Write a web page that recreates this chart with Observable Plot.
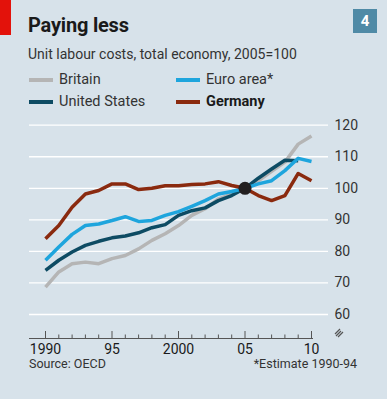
<!DOCTYPE html>
<html>
<head>
<meta charset="utf-8">
<script src="https://cdn.jsdelivr.net/npm/d3@7"></script>
<script src="https://cdn.jsdelivr.net/npm/@observablehq/plot@0.6"></script>
<style>
  html, body { margin: 0; padding: 0; }
  body { width: 387px; height: 399px; background: #d7e2ea; font-family: Roboto, "Open Sans", sans-serif; color: #1a1a1a; position: relative; overflow: hidden; }
  .abs { position: absolute; white-space: nowrap; }
  #redbar { left: 0; top: 0; width: 11px; height: 35px; background: #e3120b; }
  #num { left: 353px; top: 9px; width: 24px; height: 24px; background: #4f8aa6; color: #fff; font-weight: bold; font-size: 15px; line-height: 24px; text-align: center; }
  #title { left: 28px; top: 13px; font-size: 20px; font-weight: bold; letter-spacing: -0.2px; }
  #subtitle { left: 28px; top: 46px; font-size: 14px; color: #333; }
  .leg { font-size: 14.5px; color: #333; }
  .sw { width: 24px; height: 3.5px; }
  #chart { left: 0; top: 110px; }
  #source { left: 29px; top: 358px; font-size: 12.5px; line-height: 12px; color: #333; }
  #note { right: 30px; top: 358px; font-size: 12.5px; line-height: 12px; color: #333; }
</style>
</head>
<body>
<div id="redbar" class="abs"></div>
<div id="num" class="abs">4</div>
<div id="title" class="abs">Paying less</div>
<div id="subtitle" class="abs">Unit labour costs, total economy, 2005=100</div>
<div id="legend"></div>
<div id="chart" class="abs"></div>
<svg class="abs" style="left:333px;top:326px" width="14" height="14"><path d="M2,8 L7,3 M5,11 L10,6 M3,10 L8,5" stroke="#555" stroke-width="1.2" fill="none"/></svg>
<div id="source" class="abs">Source: OECD</div>
<div id="note" class="abs">*Estimate 1990-94</div>
<script>
const years = d3.range(1990, 2011);
const britain = [68.7,73.5,76.1,76.6,76.1,77.7,78.7,80.8,83.5,85.6,88.2,91.4,93.5,96.6,98.2,100,102.4,105.4,108.3,114.0,116.6];
const euroArea = [77.2,81.4,85.4,88.2,88.7,89.8,91.0,89.5,89.8,91.4,92.6,94.3,96.1,98.2,99.0,100,101.4,102.4,105.6,109.5,108.5];
const unitedStates = [74.0,77.2,79.8,81.9,83.2,84.3,84.9,85.9,87.5,88.5,91.4,92.9,93.8,96.1,97.7,100,103.2,106.1,108.9,108.7,null];
const germany = [84.0,88.2,94.0,98.2,99.3,101.4,101.4,99.6,100.0,100.8,100.8,101.2,101.4,102.1,100.9,100,97.7,96.1,97.7,104.7,102.4];
const seriesNames = ["Britain","Euro area*","United States","Germany"];
const seriesColors = ["#b5b5b5","#1ea5dd","#0d4b63","#8a2a0f"];
const seriesValues = [britain, euroArea, unitedStates, germany];
const yTicks = [60,70,80,90,100,110,120];
const xLabelYears = [1990,1995,2000,2005,2010];
const xLabels = ["1990","95","2000","05","10"];
const baseYear = [2005], baseValue = [100];

// legend
const legendPos = [[29,80],[176,80],[29,102],[176,102]];
const legend = document.getElementById("legend");
seriesNames.forEach((name, i) => {
  const [lx, ly] = legendPos[i];
  const sw = document.createElement("div");
  sw.className = "abs sw";
  sw.style.left = lx + "px"; sw.style.top = (ly - 1.75) + "px";
  sw.style.background = seriesColors[i];
  legend.appendChild(sw);
  const t = document.createElement("div");
  t.className = "abs leg";
  t.style.left = (lx + 30) + "px"; t.style.top = (ly - 9.5) + "px";
  t.textContent = name;
  if (name === "Germany") { t.style.fontWeight = "bold"; t.style.color = "#1a1a1a"; }
  legend.appendChild(t);
});

const rows = [];
seriesNames.forEach((name, s) => {
  years.forEach((yr, j) => {
    if (seriesValues[s][j] != null) rows.push({series: name, year: yr, value: seriesValues[s][j]});
  });
});
const drawOrder = ["Britain","United States","Euro area*","Germany"];

const H = 270, MT = 10, MB = 42;
const frameH = H - MT - MB;
const plot = Plot.plot({
  width: 387,
  height: H,
  marginTop: MT,
  marginBottom: MB,
  marginLeft: 29,
  marginRight: 59,
  style: {background: "transparent", fontFamily: "Roboto, sans-serif", color: "#222"},
  x: {domain: [1990, 2010], range: [45, 311], axis: null, label: null},
  y: {domain: [60, 120], range: [204, 14.7], axis: null, label: null},
  color: {domain: seriesNames, range: seriesColors},
  marks: [
    Plot.ruleY(yTicks, {stroke: "#fff", strokeWidth: 1.3}),
    Plot.frame({anchor: "bottom", insetRight: 16, stroke: "#555", strokeWidth: 1}),
    Plot.tickX(years.filter(y => y % 5 !== 0), {x: d => d, insetTop: frameH - 3.5, stroke: "#555", strokeWidth: 1}),
    Plot.tickX(years.filter(y => y % 5 === 0), {x: d => d, insetTop: frameH - 7, stroke: "#555", strokeWidth: 1}),
    ...drawOrder.map(name => Plot.line(rows.filter(r => r.series === name), {
      x: "year", y: "value", stroke: "series", strokeWidth: 3.5, strokeLinejoin: "round", strokeLinecap: "butt"
    })),
    Plot.dot(baseYear.map((y, i) => ({year: y, value: baseValue[i]})), {x: "year", y: "value", r: 6.5, fill: "#231f20"}),
    Plot.axisY(yTicks, {anchor: "right", label: null, tickSize: 0, tickPadding: 6, fontSize: 14, fill: "#333"}),
    Plot.axisX(xLabelYears, {anchor: "bottom", label: null, tickSize: 0, tickPadding: 6, fontSize: 14, fill: "#1a1a1a",
      tickFormat: d => xLabels[xLabelYears.indexOf(d)]})
  ]
});
document.getElementById("chart").appendChild(plot);
</script>
</body>
</html>
